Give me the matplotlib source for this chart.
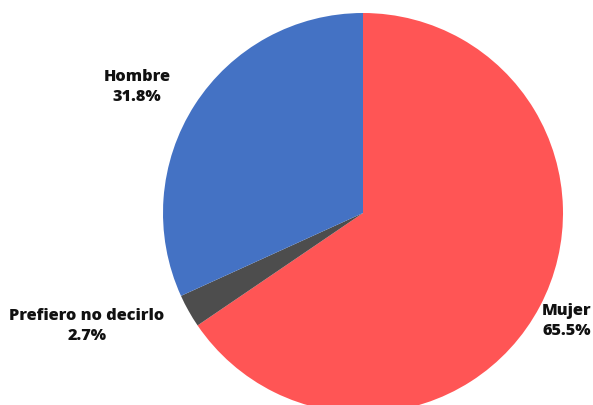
import matplotlib.pyplot as plt

# genero de los encuestados
categorias = ["Mujer", "Prefiero no decirlo", "Hombre"]
porcentajes = [65.5, 2.7, 31.8]
colores = ["#FF5555", "#4D4D4D", "#4472C4"]

plt.rcParams['font.family'] = ['Open Sans', 'DejaVu Sans']

fig = plt.figure(figsize=(5.93, 4.05), dpi=100)
# el circulo queda un poco cortado por abajo
ax = fig.add_axes([163 / 593, (405 - 413) / 405, 400 / 593, 400 / 405])
wedges, _ = ax.pie(porcentajes, colors=colores, startangle=90, counterclock=False,
                   wedgeprops={'linewidth': 0})
for w in wedges:
    w.set_clip_on(False)
ax.set_xlim(-1, 1)
ax.set_ylim(-1, 1)
ax.set_aspect('equal')
ax.axis('off')

pos_etiquetas = [(1.02, -0.54), (-1.38, -0.565), (-1.13, 0.63)]
for cat, val, (x, y) in zip(categorias, porcentajes, pos_etiquetas):
    ax.text(x, y, f"{cat}\n{val}%", ha='center', va='center', fontsize=11.7,
            fontweight=800, linespacing=1.35, color='#111111', clip_on=False)

fig.savefig("out.png", dpi=100)
